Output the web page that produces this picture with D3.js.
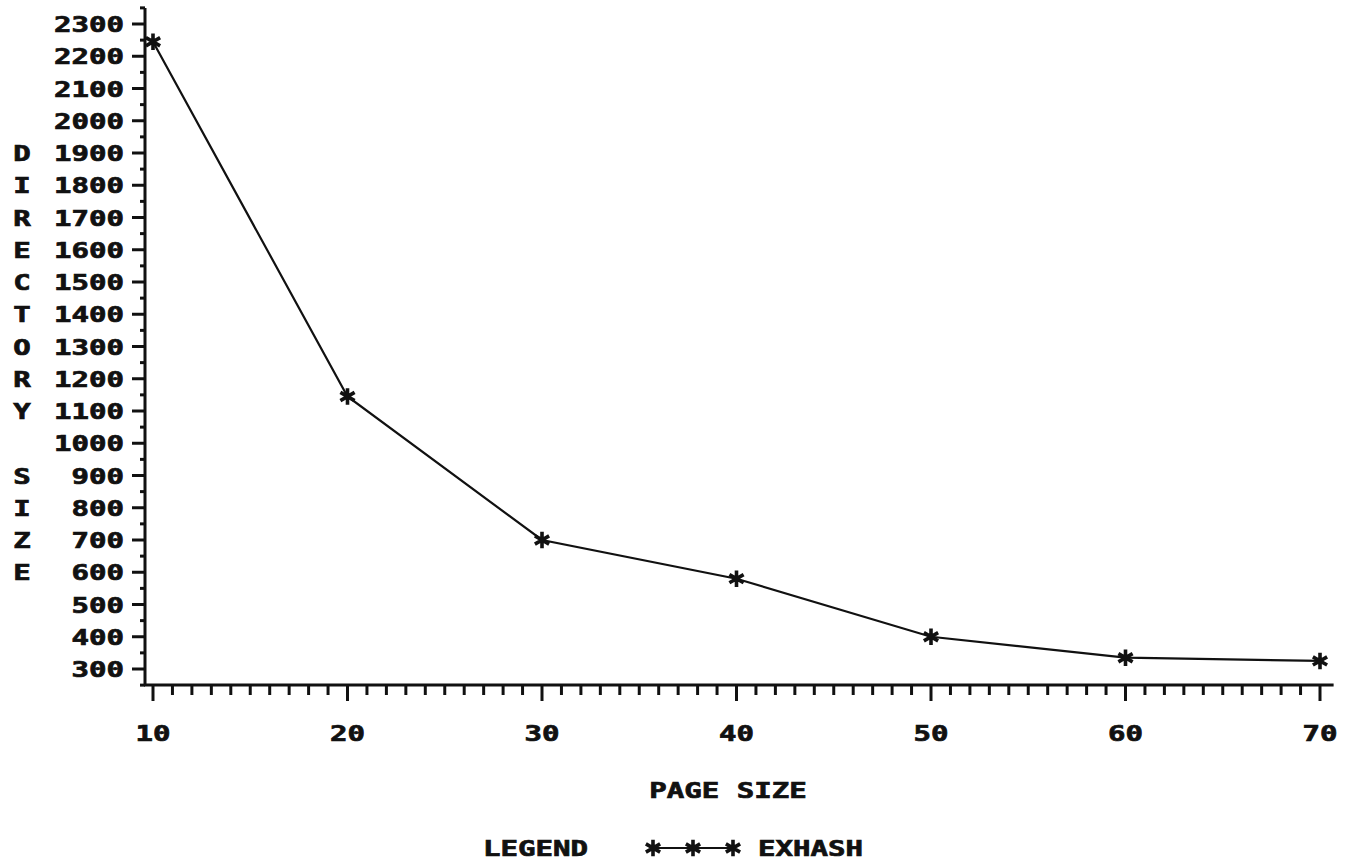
<!DOCTYPE html>
<html>
<head>
<meta charset="utf-8">
<script src="https://cdn.jsdelivr.net/npm/d3@7"></script>
<style>
  body { margin: 0; background: #fff; }
  text { font-family: "DejaVu Sans Mono", monospace; font-weight: bold; fill: #111; stroke: #111; stroke-width: 0.7px; }
</style>
</head>
<body>
<svg class="svg-chart"></svg>
<script>
// data
const pageSize = [10, 20, 30, 40, 50, 60, 70]
const dirSize = [2245, 1145, 700, 580, 400, 335, 325]
const yTicks = [300, 400, 500, 600, 700, 800, 900, 1000, 1100, 1200, 1300, 1400, 1500, 1600, 1700, 1800, 1900, 2000, 2100, 2200, 2300]
const xTicks = [10, 20, 30, 40, 50, 60, 70]
const yTitle = "DIRECTORY SIZE"
const xTitle = "PAGE SIZE"
const legendName = "EXHASH"

const W = 1345, H = 862
const charW = 17.5   // wide plotter letters

var svg = d3.select('.svg-chart')
    .attr('width', W)
    .attr('height', H)

var x = d3.scaleLinear().domain([10, 70]).range([153, 1320])
var y = d3.scaleLinear().domain([300, 2300]).range([669, 24])

const ink = '#111'

// stretched text helper
const label = (g, str, px, py, anchor, size) => {
    let t = g.append('text')
        .attr('x', px)
        .attr('y', py)
        .attr('font-size', size || 21)
        .attr('text-anchor', anchor)
        .attr('textLength', str.length * charW)
        .attr('lengthAdjust', 'spacingAndGlyphs')
        .text(str)
    return t
}

//axis lines
svg.append('line')
    .attr('x1', 145).attr('x2', 145)
    .attr('y1', y(2350)).attr('y2', 685)
    .attr('stroke', ink).attr('stroke-width', 3)
svg.append('line')
    .attr('x1', 144).attr('x2', x(70.7))
    .attr('y1', 685).attr('y2', 685)
    .attr('stroke', ink).attr('stroke-width', 3)

// y ticks: majors every 100 to the left, minors at 50s
var yMinor = d3.range(250, 2351, 50).filter(v => v % 100 !== 0)
svg.append('g').selectAll('line.ymaj')
    .data(yTicks).join('line')
    .attr('x1', 132).attr('x2', 145)
    .attr('y1', d => y(d)).attr('y2', d => y(d))
    .attr('stroke', ink).attr('stroke-width', 3)
svg.append('g').selectAll('line.ymin')
    .data(yMinor).join('line')
    .attr('x1', 140).attr('x2', 145)
    .attr('y1', d => y(d)).attr('y2', d => y(d))
    .attr('stroke', ink).attr('stroke-width', 3)
var gy = svg.append('g')
yTicks.forEach(v => label(gy, String(v), 124, y(v) + 8, 'end'))

// x ticks: every unit, longer at tens
var xMinor = d3.range(10, 71).filter(v => v % 10 !== 0)
svg.append('g').selectAll('line.xmin')
    .data(xMinor).join('line')
    .attr('x1', d => x(d)).attr('x2', d => x(d))
    .attr('y1', 685).attr('y2', 695)
    .attr('stroke', ink).attr('stroke-width', 3)
svg.append('g').selectAll('line.xmaj')
    .data(xTicks).join('line')
    .attr('x1', d => x(d)).attr('x2', d => x(d))
    .attr('y1', 685).attr('y2', 701)
    .attr('stroke', ink).attr('stroke-width', 3)
var gx = svg.append('g')
xTicks.forEach(v => label(gx, String(v), x(v), 741, 'middle'))

// axis titles
label(svg, xTitle, 728, 798, 'middle')
var gt = svg.append('g')
var letterStep = y(1800) - y(1900)
yTitle.split('').forEach((c, i) => {
    if (c !== ' ') label(gt, c, 22, y(1900) + 8 + i * letterStep, 'middle')
})

// data line
var pts = pageSize.map((p, i) => ({ p: p, v: dirSize[i] }))
var line = d3.line()
    .x(d => x(d.p))
    .y(d => y(d.v))
svg.append('path')
    .attr('d', line(pts))
    .attr('stroke', ink)
    .attr('stroke-width', 2.2)
    .attr('fill', 'none')

var star = d3.symbol().type(d3.symbolAsterisk).size(190)
svg.append('g').selectAll('path')
    .data(pts).join('path')
    .attr('transform', d => 'translate(' + x(d.p) + ',' + y(d.v) + ')')
    .attr('d', star)
    .attr('stroke', ink).attr('stroke-width', 3.6).attr('fill', 'none')

// legend
label(svg, 'LEGEND', 483, 856, 'start')
var legX = [653, 693, 733]
svg.append('line')
    .attr('x1', legX[0]).attr('x2', legX[2])
    .attr('y1', 848).attr('y2', 848)
    .attr('stroke', ink).attr('stroke-width', 2)
svg.append('g').selectAll('path')
    .data(legX).join('path')
    .attr('transform', d => 'translate(' + d + ',848)')
    .attr('d', star)
    .attr('stroke', ink).attr('stroke-width', 3.6).attr('fill', 'none')
label(svg, legendName, 758, 856, 'start')
</script>
</body>
</html>
